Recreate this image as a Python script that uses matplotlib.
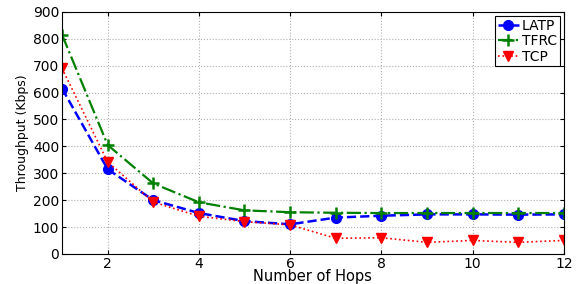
import matplotlib
matplotlib.use("Agg")
import matplotlib.pyplot as plt
import numpy as np

# Data
hops = [1, 2, 3, 4, 5, 6, 7, 8, 9, 10, 11, 12]
latp = [615, 315, 200, 152, 122, 110, 135, 142, 147, 147, 146, 147]
tfrc = [815, 405, 262, 192, 162, 155, 153, 152, 152, 152, 152, 152]
tcp = [690, 342, 193, 140, 120, 108, 58, 60, 43, 50, 43, 50]

plt.rcParams["font.family"] = ["DejaVu Sans"]

fig = plt.figure(figsize=(5.8, 2.84), dpi=100)
ax = fig.add_axes([0.107, 0.106, 0.865, 0.852])

ax.plot(hops, latp, color="blue", linestyle="--", linewidth=1.8,
        marker="o", markersize=7, label="LATP")
ax.plot(hops, tfrc, color="green", linestyle="-.", linewidth=1.6,
        marker="+", markersize=9, markeredgewidth=1.8, label="TFRC")
ax.plot(hops, tcp, color="red", linestyle=":", linewidth=1.2,
        marker="v", markersize=7, label="TCP")

ax.set_xlim(1, 12)
ax.set_ylim(0, 900)
ax.set_xticks(np.arange(2, 13, 2))
ax.set_yticks(np.arange(0, 901, 100))
ax.tick_params(direction="in", labelsize=10, top=True, right=True, length=3, pad=2)
ax.grid(True, linestyle=":", color="#b0b0b0", linewidth=0.8)

ax.set_xlabel("Number of Hops", fontsize=10.5, labelpad=-1)
ax.set_ylabel("Throughput (Kbps)", fontsize=9, labelpad=3)

leg = ax.legend(loc="upper right", fontsize=10, handlelength=1.5,
                fancybox=False, edgecolor="black", framealpha=1,
                borderpad=0.2, labelspacing=0.1, handletextpad=0.2,
                borderaxespad=0.3)
leg.get_frame().set_linewidth(0.8)

fig.savefig("out.png", dpi=100)
